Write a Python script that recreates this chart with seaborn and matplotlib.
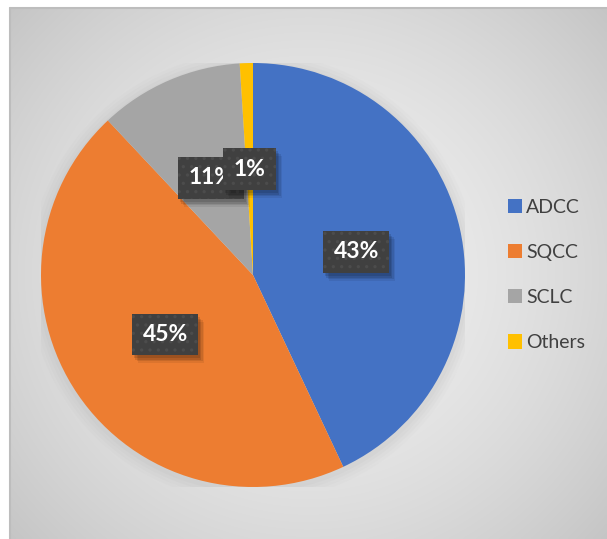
import numpy as np
import matplotlib
matplotlib.use("Agg")
import matplotlib.pyplot as plt
from matplotlib.patches import Patch, Circle, Rectangle
from matplotlib.lines import Line2D
from matplotlib.transforms import IdentityTransform
import seaborn as sns

# Lung cancer histology shares (%)
categories = ["ADCC", "SQCC", "SCLC", "Others"]
shares = [43, 45, 11, 1]
colors = ["#4472C4", "#ED7D31", "#A5A5A5", "#FFC000"]

sns.set_theme(style="white")
plt.rcParams["font.family"] = ["Lato", "DejaVu Sans"]
plt.rcParams["hatch.linewidth"] = 1.2

W, H = 607, 539
fig = plt.figure(figsize=(W / 100, H / 100), dpi=100)
fig.patch.set_facecolor("white")

# Chart area with a soft radial gradient
bg = fig.add_axes([10 / W, 0, 1 - 10 / W, 531 / H])
bg.set_axis_off()
gx, gy = np.meshgrid(np.linspace(0, 1, 300), np.linspace(0, 1, 270))
cx, cy = 0.50, 0.50
r = np.sqrt(((gx - cx) * 1.1) ** 2 + (gy - cy) ** 2) / 0.74
r = np.clip(r, 0, 1)
shade = 0.945 - 0.17 * r ** 1.6
bg.imshow(np.dstack([shade] * 3), extent=[0, 1, 0, 1], aspect="auto",
          origin="lower", interpolation="bicubic")
bg.set_xlim(0, 1)
bg.set_ylim(0, 1)
border = dict(color="#bdbdbd", linewidth=1.5, transform=bg.transAxes, clip_on=False)
bg.add_line(Line2D([0, 1], [1, 1], **border))
bg.add_line(Line2D([0, 0], [0, 1], **border))

# Pie axes: centre (253, 275) px from top-left, radius 212 px
R = 212
ax = fig.add_axes([(253 - R) / W, (H - 275 - R) / H, 2 * R / W, 2 * R / H])

# soft halo under the pie
for k, a in zip([1.06, 1.045, 1.03, 1.015], [0.025, 0.03, 0.035, 0.04]):
    ax.add_patch(Circle((0.0, -0.01), k, color="#808080", alpha=a, lw=0, zorder=0))

wedges, texts, autotexts = ax.pie(
    shares, colors=colors, startangle=90, counterclock=False,
    autopct="%.0f%%", pctdistance=0.5, radius=1.0,
    wedgeprops=dict(linewidth=0),
    textprops=dict(color="white", fontsize=16.5, fontweight="bold"),
)
ax.set_xlim(-1.0, 1.0)
ax.set_ylim(-1.0, 1.0)
ax.set_aspect("equal")
ax.set_axis_off()

# dark data-label boxes
for i, t in enumerate(autotexts):
    t.set_zorder(4 + 2 * i)
    t.set_bbox(dict(boxstyle="square,pad=0.45", facecolor="#404040",
                    edgecolor="#4c4c4c", linewidth=0, hatch=".."))

# soft drop shadow behind each label box (display coordinates)
fig.canvas.draw()
for i, t in enumerate(autotexts):
    bb = t.get_bbox_patch().get_window_extent()
    for dx, dy, a in [(2, -3, 0.12), (3, -5, 0.11), (5, -6, 0.09), (6, -8, 0.07)]:
        ax.add_artist(Rectangle((bb.x0 + dx, bb.y0 + dy), bb.width, bb.height,
                                transform=IdentityTransform(), facecolor="black",
                                alpha=a, linewidth=0, zorder=3 + 2 * i,
                                clip_on=False))

handles = [Patch(facecolor=c, edgecolor="none") for c in colors]
fig.legend(handles, categories, loc="center left",
           bbox_to_anchor=(490 / W, 1 - 275 / H), frameon=False,
           fontsize=14, handlelength=0.75, handleheight=0.75,
           handletextpad=0.2, labelspacing=1.45, labelcolor="#404040")

fig.savefig("out.png", dpi=100)
